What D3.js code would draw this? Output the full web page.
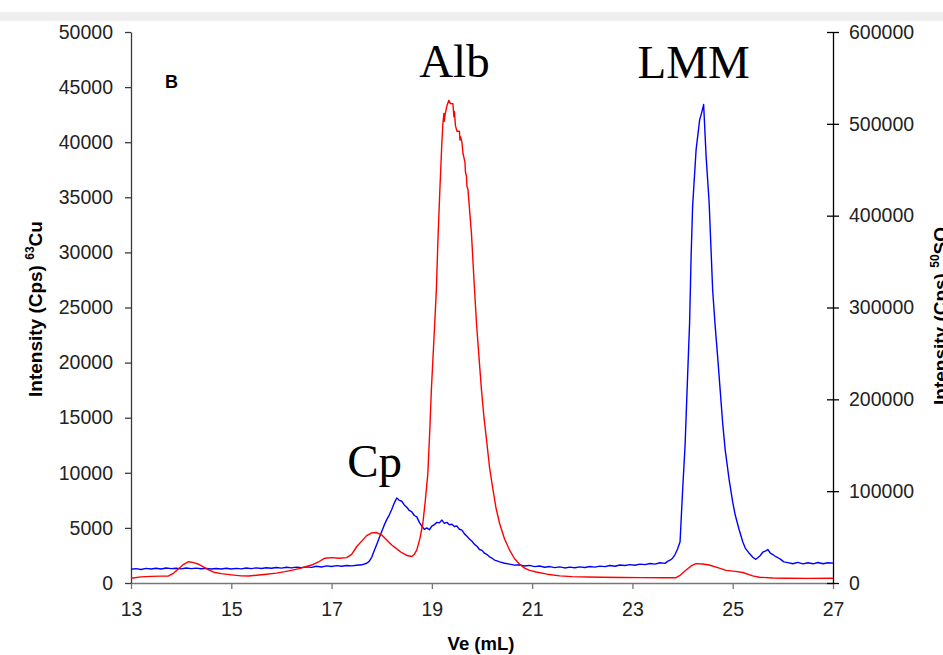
<!DOCTYPE html>
<html>
<head>
<meta charset="utf-8">
<script src="https://cdn.jsdelivr.net/npm/d3@7"></script>
<style>
  body { margin: 0; background: #fff; }
  svg { display: block; font-family: "Liberation Sans", Arial, sans-serif; }
</style>
</head>
<body>
<svg id="chart" width="943" height="655"></svg>
<script>
// 63Cu trace (left axis)
var cuVe = [13.0, 13.2, 13.4, 13.6, 13.75, 13.85, 13.95, 14.05, 14.15, 14.25, 14.35, 14.45, 14.55, 14.65, 14.8,
  15.0, 15.2, 15.35, 15.5, 15.7, 15.9, 16.07, 16.2, 16.35, 16.5, 16.6, 16.75, 16.86, 17.0, 17.15, 17.3, 17.4,
  17.5, 17.6, 17.7, 17.8, 17.9, 18.0, 18.1, 18.2, 18.3, 18.4, 18.5, 18.6, 18.65, 18.7, 18.76, 18.82, 18.87,
  18.92, 18.96, 18.99, 19.04, 19.09, 19.12, 19.16, 19.2, 19.22, 19.24, 19.25, 19.26, 19.3, 19.34, 19.37, 19.42,
  19.44, 19.45, 19.47, 19.5, 19.55, 19.56, 19.57, 19.6, 19.62, 19.66, 19.67, 19.69, 19.7, 19.72, 19.79, 19.84,
  19.89, 19.94, 19.99, 20.04, 20.09, 20.15, 20.22, 20.28, 20.35, 20.45, 20.55, 20.65, 20.75, 20.85, 20.95,
  21.08, 21.3, 21.55, 21.8, 22.1, 22.4, 22.8, 23.2, 23.6, 23.87, 23.95, 24.07, 24.17, 24.27, 24.4, 24.53,
  24.7, 24.87, 25.05, 25.2, 25.4, 25.53, 25.8, 26.06, 26.5, 27.0];
var cuCps = [430, 560, 600, 620, 640, 900, 1300, 1700, 1930, 1850, 1700, 1450, 1200, 980, 850,
  740, 650, 630, 700, 800, 900, 1030, 1150, 1300, 1500, 1630, 1950, 2240, 2300, 2250, 2300, 2600,
  3290, 3800, 4300, 4550, 4580, 4350, 3900, 3450, 3100, 2750, 2500, 2400, 2600, 3000, 4000, 5400, 7500,
  9950, 14000, 17500, 22000, 26600, 31000, 35700, 40000, 41700, 42600, 41900, 42400, 43300, 43800, 43500, 43500,
  42300, 42800, 41500, 41000, 41000, 40200, 40500, 40000, 39000, 38200, 37300, 36900, 36000, 35700, 31700, 27500,
  23600, 20500, 17500, 15000, 13000, 10500, 8440, 6800, 5420, 4000, 2990, 2200, 1700, 1350, 1150,
  1000, 800, 650, 580, 540, 520, 500, 490, 480, 480, 700, 1180, 1550, 1760, 1720, 1630,
  1400, 1150, 1050, 950, 650, 520, 460, 430, 420, 430];

// 50SO trace (right axis)
var soVe = [13.0, 13.1, 13.2, 13.3, 13.4, 13.5, 13.6, 13.7, 13.8, 13.9, 14.0, 14.1, 14.2, 14.3, 14.4, 14.5,
  14.6, 14.7, 14.8, 14.9, 15.0, 15.1, 15.2, 15.3, 15.4, 15.5, 15.6, 15.7, 15.8, 15.9, 16.0, 16.1, 16.2, 16.3,
  16.4, 16.5, 16.6, 16.7, 16.8, 16.9, 17.0, 17.1, 17.2, 17.3, 17.4, 17.5, 17.6, 17.7, 17.75, 17.8, 17.85,
  17.9, 17.95, 18.0, 18.05, 18.1, 18.15, 18.2, 18.25, 18.3, 18.35, 18.4, 18.45, 18.5, 18.55, 18.6, 18.65,
  18.7, 18.75, 18.8, 18.85, 18.9, 18.95, 19.0, 19.05, 19.1, 19.15, 19.2, 19.25, 19.3, 19.35, 19.4, 19.45,
  19.5, 19.55, 19.6, 19.65, 19.7, 19.75, 19.8, 19.85, 19.9, 19.95, 20.0, 20.05, 20.1, 20.15, 20.2, 20.25,
  20.3, 20.35, 20.45, 20.55, 20.65, 20.75, 20.85, 20.95, 21.05, 21.15, 21.25, 21.35, 21.45, 21.55, 21.65,
  21.75, 21.85, 21.95, 22.05, 22.15, 22.25, 22.35, 22.45, 22.55, 22.65, 22.75, 22.85, 22.95, 23.05, 23.15,
  23.25, 23.35, 23.45, 23.55, 23.65, 23.7, 23.75, 23.8, 23.85, 23.9, 23.95, 24.0, 24.05, 24.1, 24.14, 24.17,
  24.2, 24.27, 24.34, 24.38, 24.42, 24.47, 24.53, 24.6, 24.65, 24.7, 24.75, 24.8, 24.85, 24.93, 25.0, 25.05,
  25.13, 25.2, 25.25, 25.33, 25.4, 25.46, 25.5, 25.55, 25.6, 25.66, 25.7, 25.75, 25.8, 25.86, 25.9, 25.95,
  26.02, 26.1, 26.2, 26.3, 26.4, 26.5, 26.6, 26.7, 26.8, 26.9, 27.0];
var soCps = [14900, 15600, 14700, 15900, 15200, 16000, 15300, 16300, 15600, 16100, 15400, 16400, 15700, 16200, 15500, 15900,
  15200, 15800, 15300, 16000, 15200, 15900, 15400, 16300, 15600, 16500, 15800, 16600, 16000, 16900, 16200, 17100, 16500, 17300,
  16700, 17600, 17000, 18200, 17400, 18600, 18000, 18900, 18300, 19100, 18600, 19400, 19800, 21500, 23500, 28000, 35000,
  42000, 49000, 56000, 63000, 69000, 74000, 80000, 87000, 92500, 90000, 89000, 85000, 82500, 79000, 77500, 73500,
  72000, 66000, 62000, 58500, 60000, 58000, 62000, 63500, 66000, 65500, 68500, 65000, 66000, 63500, 64000, 61500,
  62000, 58500, 57500, 53500, 51000, 48000, 45500, 42000, 40000, 36500, 35500, 32500, 31000, 28500, 27000, 25000,
  24000, 23000, 21500, 20500, 19500, 19800, 18500, 19200, 17800, 18500, 17200, 17900, 16800, 17600, 16400,
  17300, 16600, 17500, 16900, 18000, 17300, 18400, 17800, 19000, 18200, 19600, 19000, 20000, 19300, 20600,
  20000, 21200, 20600, 22000, 21400, 23500, 24800, 27000, 31000, 37000, 45000, 100000, 150000, 225000, 283000, 355000,
  410000, 472000, 504000, 512000, 521000, 464000, 414000, 319000, 280000, 246000, 210000, 174000, 145000, 112000, 88000, 74000,
  57700, 45000, 38000, 32300, 28000, 25800, 27500, 30000, 33500, 35000, 36500, 32500, 31000, 28600, 27500, 26000,
  23000, 22200, 21000, 22500, 20800, 22000, 20900, 22300, 21000, 22100, 21600];

var xTicks = [13, 15, 17, 19, 21, 23, 25, 27];
var leftTicks = [0, 5000, 10000, 15000, 20000, 25000, 30000, 35000, 40000, 45000, 50000];
var rightTicks = [0, 100000, 200000, 300000, 400000, 500000, 600000];

var svg = d3.select("#chart");
var plotLeft = 131, plotRight = 833, plotTop = 32, plotBottom = 583;

// grey strip at the top of the picture
svg.append("rect").attr("x", 0).attr("y", 12).attr("width", 943).attr("height", 9).attr("fill", "#efefef");

var x = d3.scaleLinear().domain([13, 27]).range([plotLeft, plotRight]);
var yL = d3.scaleLinear().domain([0, 50000]).range([plotBottom, plotTop]);
var yR = d3.scaleLinear().domain([0, 600000]).range([plotBottom, plotTop]);

function styleAxis(g, color) {
  g.selectAll("path.domain").attr("stroke", color).attr("stroke-width", 1.3);
  g.selectAll(".tick line").attr("stroke", color).attr("stroke-width", 1.3);
  g.selectAll(".tick text").attr("fill", "#222").attr("font-size", "19.5px")
    .attr("font-family", "'Liberation Sans', Arial, sans-serif");
}

var xAxisG = svg.append("g").attr("transform", "translate(0," + plotBottom + ")")
  .call(d3.axisBottom(x).tickValues(xTicks).tickFormat(d3.format("d")).tickSize(6).tickSizeOuter(0).tickPadding(13));
styleAxis(xAxisG, "#777");

var leftAxisG = svg.append("g").attr("transform", "translate(" + plotLeft + ",0)")
  .call(d3.axisLeft(yL).tickValues(leftTicks).tickFormat(d3.format("d")).tickSize(6).tickSizeOuter(0).tickPadding(12));
styleAxis(leftAxisG, "#3a3a3a");

var rightAxisG = svg.append("g").attr("transform", "translate(" + plotRight + ",0)")
  .call(d3.axisRight(yR).tickValues(rightTicks).tickFormat(d3.format("d")).tickSize(6).tickSizeOuter(0).tickPadding(10));
rightAxisG.selectAll(".tick line").attr("x1", -6);
styleAxis(rightAxisG, "#000");

// traces
var soLine = d3.line().x(function (d, i) { return x(soVe[i]); }).y(function (d) { return yR(d); });
var cuLine = d3.line().x(function (d, i) { return x(cuVe[i]); }).y(function (d) { return yL(d); });

svg.append("path").datum(soCps).attr("d", soLine)
  .attr("fill", "none").attr("stroke", "#0000ff").attr("stroke-width", 1.4).attr("stroke-linejoin", "round");
svg.append("path").datum(cuCps).attr("d", cuLine)
  .attr("fill", "none").attr("stroke", "#ff0000").attr("stroke-width", 1.4).attr("stroke-linejoin", "round");

// axis titles
var leftTitle = svg.append("text").attr("transform", "translate(42,397) rotate(-90)")
  .attr("font-weight", "bold").attr("font-size", "19px").attr("fill", "#000");
leftTitle.append("tspan").text("Intensity (Cps) ");
leftTitle.append("tspan").attr("font-size", "12px").attr("dy", -8).text("63");
leftTitle.append("tspan").attr("dy", 8).text("Cu");

var rightTitle = svg.append("text").attr("transform", "translate(947,405) rotate(-90)")
  .attr("font-weight", "bold").attr("font-size", "19px").attr("fill", "#000");
rightTitle.append("tspan").text("Intensity (Cps) ");
rightTitle.append("tspan").attr("font-size", "12px").attr("dy", -8).text("50");
rightTitle.append("tspan").attr("dy", 8).text("SO");

svg.append("text").attr("x", 481).attr("y", 650).attr("text-anchor", "middle")
  .attr("font-weight", "bold").attr("font-size", "18.5px").text("Ve (mL)");

svg.append("text").attr("x", 165).attr("y", 88)
  .attr("font-weight", "bold").attr("font-size", "18px").text("B");

// peak labels
var peakLabels = [
  { text: "Alb", ve: 19.45, val: 45900 },
  { text: "LMM", ve: 24.22, val: 45800 },
  { text: "Cp", ve: 17.86, val: 9600 }
];
svg.selectAll("text.peak").data(peakLabels).enter().append("text")
  .attr("class", "peak")
  .attr("x", function (d) { return x(d.ve); })
  .attr("y", function (d) { return yL(d.val); })
  .attr("text-anchor", "middle")
  .attr("font-family", "'Liberation Serif', 'Times New Roman', serif")
  .attr("font-size", "47px")
  .attr("fill", "#000")
  .text(function (d) { return d.text; });
</script>
</body>
</html>
